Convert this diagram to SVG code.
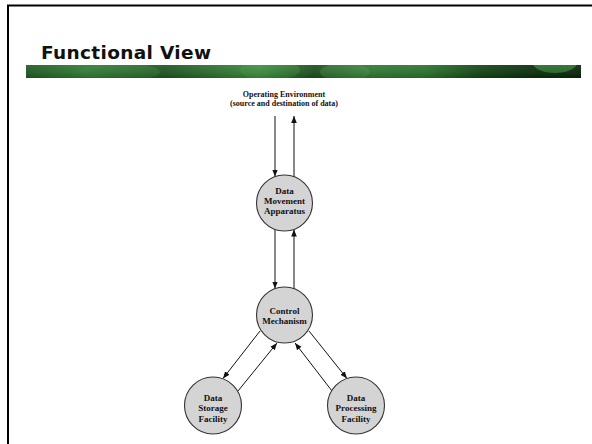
<svg xmlns="http://www.w3.org/2000/svg" width="592" height="444" viewBox="0 0 592 444">
  <style>
    .node circle { fill: #d4d4d4; stroke: #333333; stroke-width: 1.1; }
    .node text, .env { font-family: "Liberation Serif", "Times New Roman", serif; font-weight: bold; font-size: 9px; fill: #111111; text-anchor: middle; }
    .env { font-size: 8px; }
    .conn line { stroke: #111111; stroke-width: 1; marker-end: url(#ah); }
    .title { font-family: "DejaVu Sans", Verdana, sans-serif; font-weight: bold; font-size: 18.5px; fill: #111111; }
  </style>
  <defs>
    <marker id="ah" viewBox="0 0 10 10" refX="10" refY="5" markerWidth="7" markerHeight="7" markerUnits="userSpaceOnUse" orient="auto">
      <path d="M0,1 L10,5 L0,9 Z" fill="#111111"/>
    </marker>
    <linearGradient id="band" x1="0" y1="0" x2="1" y2="0">
      <stop offset="0" stop-color="#1f5a22"/>
      <stop offset="0.1" stop-color="#2f7a33"/>
      <stop offset="0.25" stop-color="#1d5520"/>
      <stop offset="0.33" stop-color="#2a6e2d"/>
      <stop offset="0.42" stop-color="#3a8a3c"/>
      <stop offset="0.52" stop-color="#1a4f1c"/>
      <stop offset="0.62" stop-color="#2f7a31"/>
      <stop offset="0.72" stop-color="#2a732c"/>
      <stop offset="0.82" stop-color="#124414"/>
      <stop offset="0.9" stop-color="#0b300c"/>
      <stop offset="1" stop-color="#08260a"/>
    </linearGradient>
    <linearGradient id="bandv" x1="0" y1="0" x2="0" y2="1">
      <stop offset="0" stop-color="#ffffff" stop-opacity="0.08"/>
      <stop offset="1" stop-color="#000000" stop-opacity="0.15"/>
    </linearGradient>
    <clipPath id="bclip"><rect x="26" y="65" width="555" height="13"/></clipPath>
  </defs>

  <rect width="592" height="444" fill="#ffffff"/>
  <!-- frame -->
  <path d="M8,444 V5.5 H592" fill="none" stroke="#000000" stroke-width="2"/>

  <!-- header -->
  <text class="title" x="41" y="58.5" textLength="170" lengthAdjust="spacing">Functional View</text>
  <g clip-path="url(#bclip)">
    <rect x="26" y="65" width="555" height="13" fill="url(#band)"/>
    <ellipse cx="120" cy="72" rx="40" ry="9" fill="#3b8a3e" opacity="0.35"/>
    <ellipse cx="270" cy="70" rx="30" ry="10" fill="#4a9a4a" opacity="0.3"/>
    <ellipse cx="345" cy="72" rx="25" ry="9" fill="#56a356" opacity="0.3"/>
    <ellipse cx="555" cy="63" rx="22" ry="10" fill="#2e7a30" opacity="0.8"/>
    <rect x="26" y="65" width="555" height="13" fill="url(#bandv)"/>
  </g>

  <text class="env" x="284" y="97">Operating Environment</text>
  <text class="env" x="284" y="106">(source and destination of data)</text>

  <g class="conn">
    <line x1="275" y1="116" x2="275" y2="176.5"/>
    <line x1="294" y1="177" x2="294" y2="116"/>
    <line x1="275" y1="229.5" x2="275" y2="288.5"/>
    <line x1="294" y1="289" x2="294" y2="229.5"/>
    <line x1="260" y1="331" x2="223" y2="378.5"/>
    <line x1="238" y1="391" x2="277" y2="343"/>
    <line x1="332" y1="391" x2="295" y2="343"/>
    <line x1="309" y1="331" x2="347" y2="378.5"/>
  </g>

  <g id="dma" class="node">
    <circle cx="284.5" cy="203" r="28"/>
    <text x="284.5" y="193.5">Data</text>
    <text x="284.5" y="203.5">Movement</text>
    <text x="284.5" y="213.5">Apparatus</text>
  </g>
  <g id="cm" class="node">
    <circle cx="284.5" cy="315" r="28"/>
    <text x="284.5" y="314">Control</text>
    <text x="284.5" y="324">Mechanism</text>
  </g>
  <g id="dsf" class="node">
    <circle cx="213" cy="405.5" r="28.5"/>
    <text x="213" y="400.5">Data</text>
    <text x="213" y="411">Storage</text>
    <text x="213" y="421.5">Facility</text>
  </g>
  <g id="dpf" class="node">
    <circle cx="356" cy="405.5" r="28.5"/>
    <text x="356" y="400.5">Data</text>
    <text x="356" y="411">Processing</text>
    <text x="356" y="421.5">Facility</text>
  </g>
</svg>
